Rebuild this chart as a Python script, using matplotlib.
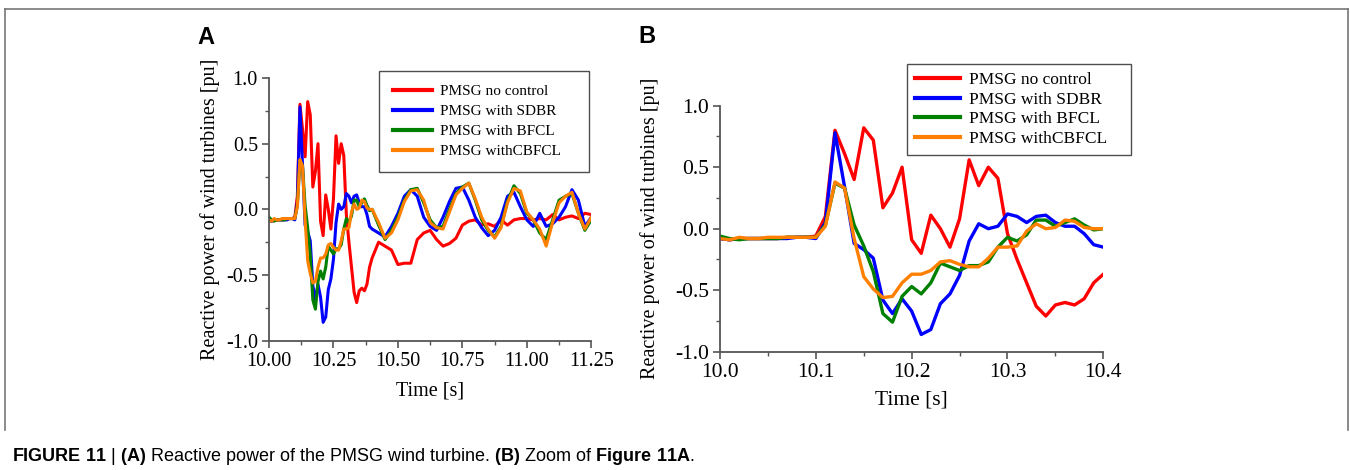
import matplotlib

matplotlib.use("Agg")
import matplotlib.pyplot as plt
import numpy as np
from matplotlib.lines import Line2D
from matplotlib.ticker import MultipleLocator, FormatStrFormatter

plt.rcParams["font.family"] = "Liberation Serif"
plt.rcParams["axes.unicode_minus"] = False
plt.rcParams["mathtext.fontset"] = "custom"
plt.rcParams["mathtext.rm"] = "Liberation Sans"
plt.rcParams["mathtext.bf"] = "Liberation Sans:bold"

# ---- data ----
labels = ["PMSG no control", "PMSG with SDBR", "PMSG with BFCL", "PMSG withCBFCL"]
colors = ["#ff0000", "#0000ff", "#008000", "#ff8000"]

# 10.00 .. 10.40 s, 0.01 s step
t_zoom = np.round(np.linspace(10.0, 10.4, 41), 3)
red_zoom = [-0.08, -0.09, -0.08, -0.08, -0.08, -0.08, -0.08, -0.07, -0.07, -0.07, -0.06,
            0.10, 0.80, 0.61, 0.40, 0.82, 0.72, 0.17, 0.29, 0.50, -0.09,
            -0.20, 0.11, 0.00, -0.15, 0.08, 0.56, 0.35, 0.50, 0.41, -0.04,
            -0.25, -0.44, -0.63, -0.71, -0.62, -0.60, -0.62, -0.57, -0.44, -0.37]
blue_zoom = [-0.08, -0.09, -0.08, -0.08, -0.08, -0.08, -0.08, -0.08, -0.07, -0.07, -0.08,
             0.05, 0.78, 0.34, -0.12, -0.17, -0.24, -0.58, -0.69, -0.57, -0.67,
             -0.86, -0.82, -0.61, -0.53, -0.38, -0.10, 0.04, 0.00, 0.02, 0.12,
             0.10, 0.05, 0.10, 0.11, 0.05, 0.02, 0.02, -0.04, -0.13, -0.15]
green_zoom = [-0.06, -0.08, -0.09, -0.08, -0.08, -0.08, -0.08, -0.07, -0.07, -0.07, -0.07,
              0.03, 0.37, 0.33, 0.03, -0.14, -0.35, -0.69, -0.76, -0.55, -0.47,
              -0.53, -0.44, -0.28, -0.31, -0.34, -0.30, -0.30, -0.27, -0.15, -0.07,
              -0.10, -0.05, 0.07, 0.07, 0.02, 0.05, 0.08, 0.03, -0.01, 0.00]
orange_zoom = [-0.08, -0.09, -0.07, -0.08, -0.08, -0.07, -0.07, -0.07, -0.07, -0.07, -0.07,
               0.02, 0.38, 0.33, -0.08, -0.39, -0.49, -0.56, -0.55, -0.44, -0.37,
               -0.37, -0.34, -0.27, -0.26, -0.29, -0.31, -0.31, -0.24, -0.15, -0.15,
               -0.14, -0.02, 0.04, 0.00, 0.01, 0.07, 0.06, 0.01, 0.00, 0.00]

# 10.425 .. 11.25 s, 0.025 s step (rest of the full run)
t_tail = np.round(np.linspace(10.425, 11.25, 34), 3)
red_tail = [-0.25, -0.28, -0.31, -0.42, -0.41, -0.41, -0.23, -0.18, -0.16, -0.23,
            -0.28, -0.26, -0.22, -0.12, -0.09, -0.08, -0.12, -0.11, -0.13, -0.08,
            -0.12, -0.08, -0.07, -0.07, -0.08, -0.07, -0.08, -0.04, -0.08, -0.06,
            -0.05, -0.07, -0.03, -0.04]
blue_tail = [-0.18, -0.21, -0.13, -0.03, 0.10, 0.15, 0.10, -0.06, -0.13, -0.16,
             -0.06, 0.06, 0.16, 0.17, 0.07, -0.06, -0.14, -0.20, -0.16, -0.06,
             0.10, 0.13, 0.02, -0.08, -0.13, -0.03, -0.13, -0.11, -0.06, 0.02,
             0.15, 0.07, -0.13, -0.06]
green_tail = [-0.12, -0.23, -0.16, -0.06, 0.07, 0.15, 0.16, 0.05, -0.08, -0.14,
              -0.13, 0.00, 0.12, 0.17, 0.20, 0.07, -0.08, -0.16, -0.21, -0.13,
              0.06, 0.18, 0.12, -0.03, -0.08, -0.18, -0.23, -0.08, 0.07, 0.10,
              0.12, -0.03, -0.16, -0.08]
orange_tail = [-0.10, -0.22, -0.18, -0.08, 0.06, 0.14, 0.15, 0.07, -0.10, -0.14,
               -0.15, -0.02, 0.11, 0.16, 0.20, 0.08, -0.06, -0.15, -0.22, -0.14,
               0.05, 0.16, 0.14, -0.02, -0.08, -0.15, -0.28, -0.10, 0.05, 0.10,
               0.13, -0.03, -0.15, -0.06]

zoom_series = [red_zoom, blue_zoom, green_zoom, orange_zoom]
tail_series = [red_tail, blue_tail, green_tail, orange_tail]
t_full = np.concatenate([t_zoom, t_tail])

W, H = 1350, 470
fig = plt.figure(figsize=(W / 100, H / 100), dpi=100)

SPINE = "#555555"


def style(ax, xmaj, xmin, fmt, fs):
    for s in ("top", "right"):
        ax.spines[s].set_visible(False)
    for s in ("left", "bottom"):
        ax.spines[s].set_color(SPINE)
        ax.spines[s].set_linewidth(1.3)
    ax.set_ylim(-1.0, 1.0)
    ax.yaxis.set_major_locator(MultipleLocator(0.5))
    ax.yaxis.set_minor_locator(MultipleLocator(0.25))
    ax.xaxis.set_major_locator(MultipleLocator(xmaj))
    ax.xaxis.set_minor_locator(MultipleLocator(xmin))
    ax.xaxis.set_major_formatter(FormatStrFormatter(fmt))
    ax.yaxis.set_major_formatter(FormatStrFormatter("%.1f"))
    ax.tick_params(which="major", direction="out", length=5, width=1.2,
                   color=SPINE, labelsize=fs, pad=3)
    ax.tick_params(which="minor", direction="out", length=3, width=1.0, color=SPINE)


def legend_in_box(ax, x0, y_top, w, h, fs, spacing, pad):
    # box given in reference pixels (top-left origin)
    leg = ax.legend(loc="upper left", bbox_to_anchor=(x0 / W, 1 - (y_top + h) / H, w / W, h / H),
                    bbox_transform=fig.transFigure, mode="expand", fontsize=fs,
                    handlelength=2.6, labelspacing=spacing, fancybox=False,
                    edgecolor="#222222", borderpad=pad, handletextpad=0.5,
                    borderaxespad=0)
    leg.get_frame().set_linewidth(1.0)
    for ln in leg.get_lines():
        ln.set_linewidth(3.0)
    return leg


# (A) full run
axA = fig.add_axes([269 / W, 1 - 340.7 / H, 322.3 / W, 262.7 / H])
for ys_z, ys_t, c, lab in zip(zoom_series, tail_series, colors, labels):
    axA.plot(t_full, list(ys_z) + list(ys_t), color=c, lw=2.2, label=lab)
axA.set_xlim(10.0, 11.25)
style(axA, 0.25, 0.125, "%.2f", 14.5)
axA.set_xlabel("Time [s]", fontsize=14.5, labelpad=8)
axA.set_ylabel("Reactive power of wind turbines [pu]", fontsize=14.5, labelpad=4)
legend_in_box(axA, 379, 71, 210, 101, 11, 0.4, 0.9)

# (B) zoom 10.0 - 10.4 s
axB = fig.add_axes([720 / W, 1 - 351.7 / H, 383.3 / W, 246 / H])
for ys, c, lab in zip(zoom_series, colors, labels):
    axB.plot(t_zoom, ys, color=c, lw=2.4, label=lab)
axB.set_xlim(10.0, 10.4)
style(axB, 0.1, 0.05, "%.1f", 15.5)
axB.set_xlabel("Time [s]", fontsize=15.5, labelpad=6)
axB.set_ylabel("Reactive power of wind turbines [pu]", fontsize=14.5, labelpad=11)
legend_in_box(axB, 907, 64, 224, 95, 12.5, 0.2, 0.45)

# panel letters
fig.text(197 / W, 1 - 44 / H, "A", fontsize=17, fontweight="bold",
         family="Liberation Sans", ha="left", va="baseline")
fig.text(638 / W, 1 - 43 / H, "B", fontsize=17, fontweight="bold",
         family="Liberation Sans", ha="left", va="baseline")

# outer frame (open at the bottom)
fx0, fx1, fy0, fy1 = 4.5 / W, 1347.5 / W, 1 - 9 / H, 1 - 430 / H
for xs, ys in [([fx0, fx0], [fy1, fy0]), ([fx0, fx1], [fy0, fy0]), ([fx1, fx1], [fy0, fy1])]:
    fig.add_artist(Line2D(xs, ys, transform=fig.transFigure, color="#777777", lw=1.2))

# caption
fig.text(12 / W, 1 - 461 / H,
         r"$\bf{FIGURE\ 11}$ | $\bf{(A)}$ Reactive power of the PMSG wind turbine. "
         r"$\bf{(B)}$ Zoom of $\bf{Figure\ 11A}$.",
         fontsize=13, family="Liberation Sans", ha="left", va="baseline")

fig.savefig("out.png", dpi=100)
plt.close(fig)
